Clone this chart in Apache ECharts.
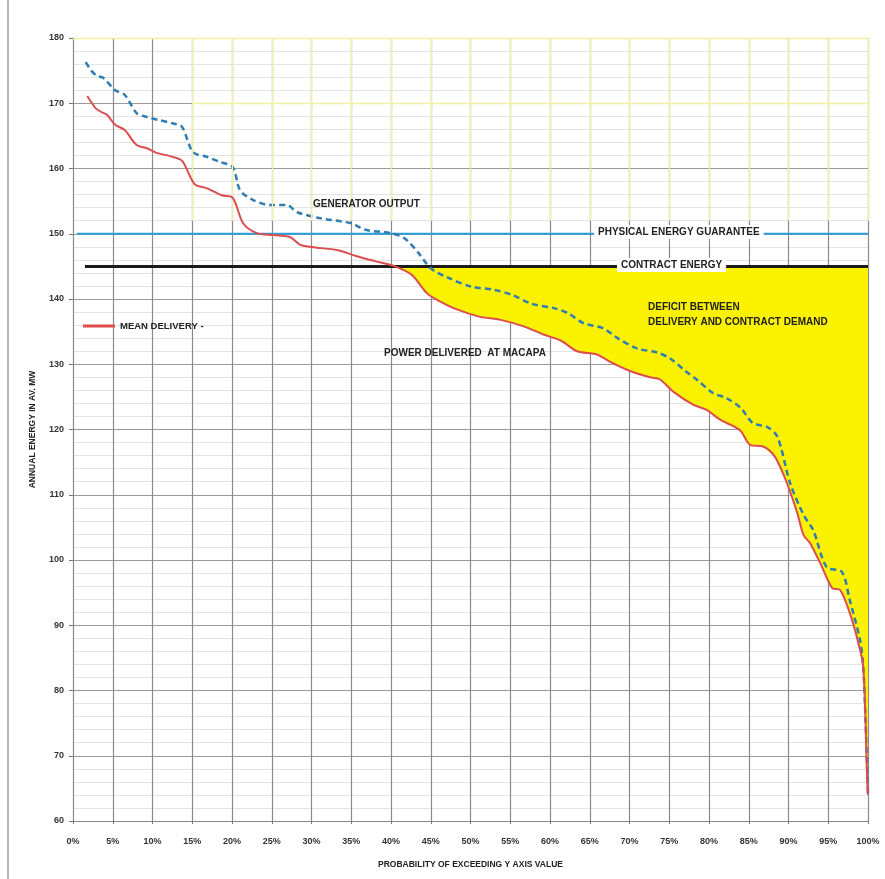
<!DOCTYPE html>
<html>
<head>
<meta charset="utf-8">
<script src="https://cdn.jsdelivr.net/npm/echarts@6/dist/echarts.min.js"></script>
<style>
html,body{margin:0;padding:0;background:#fff;}
#chart{width:885px;height:879px;}
</style>
</head>
<body>
<div id="chart"></div>
<script>
// ---- data (probability of exceeding in %, annual energy in av. MW) ----
var xTickValues = [0,5,10,15,20,25,30,35,40,45,50,55,60,65,70,75,80,85,90,95,100];
var xTickLabels = ['0%','5%','10%','15%','20%','25%','30%','35%','40%','45%','50%','55%','60%','65%','70%','75%','80%','85%','90%','95%','100%'];
var yTickValues = [60,70,80,90,100,110,120,130,140,150,160,170,180];

var meanDeliveryX = [1.8,2.8,3.5,4.3,5.3,6.5,8.0,9.3,10.5,12.2,13.7,15.3,16.8,18.7,20.1,21.4,23.1,25.2,27.3,28.6,30.5,33.2,35.6,38.0,40.5,42.6,44.5,45.9,48.3,51.1,53.8,56.7,59.1,61.4,63.4,65.9,67.5,70.0,72.6,73.8,75.5,78.0,79.7,81.4,83.9,85.2,86.8,88.3,89.8,91.1,91.9,92.7,94.0,95.5,96.5,97.7,98.7,99.4,99.9,100];
var meanDeliveryY = [171.1,169.3,168.7,168.2,166.7,165.9,163.6,163.1,162.4,161.9,161.2,157.6,157.0,155.9,155.5,151.6,150.1,149.8,149.5,148.3,147.9,147.5,146.6,145.8,145.0,143.7,140.9,139.8,138.4,137.3,136.8,135.8,134.6,133.6,132.0,131.5,130.4,129.0,128.0,127.7,125.8,123.8,123.0,121.5,119.9,117.6,117.4,115.8,111.8,107.2,103.8,102.6,99.5,95.7,95.4,91.9,87.7,83.6,66.3,64.0];

var generatorX = [1.6,2.3,3.0,3.8,5.3,6.5,8.0,9.3,10.9,12.6,13.7,15.1,16.8,18.5,20.1,21.0,22.6,24.8,26.9,28.2,31.0,35.0,36.8,40.0,41.7,43.5,45.0,47.3,50.1,53.0,55.3,57.6,60.5,62.3,64.2,66.7,68.5,71.0,73.5,75.2,77.0,78.5,80.5,82.2,84.0,85.5,87.3,88.6,90.2,91.9,93.1,94.8,96.7,97.7,99.0,99.4,99.7,100];
var generatorY = [176.3,175.0,174.2,173.9,172.0,171.3,168.5,167.9,167.4,166.9,166.4,162.5,161.8,161.0,160.2,156.7,155.2,154.4,154.4,153.3,152.4,151.6,150.6,150.1,149.3,147.0,144.7,143.2,141.9,141.4,140.6,139.3,138.6,137.8,136.3,135.5,134.0,132.4,131.8,130.8,129.0,127.6,125.6,124.8,123.3,121.0,120.4,118.9,111.8,106.9,104.6,98.9,98.2,93.9,87.7,83.6,75.0,64.0];

var physicalGuarantee = 150;
var physicalRange = [0.5, 100];
var contractEnergy = 145;
var contractRange = [1.5, 100];

// ---- derived series ----
function pairs(xs, ys){ return xs.map(function(x,i){ return [x, ys[i]]; }); }
var meanData = pairs(meanDeliveryX, meanDeliveryY);
var genData = pairs(generatorX, generatorY);
// deficit region: between contract energy and mean delivery where delivery is below contract
var deficitPoly = [];
meanDeliveryX.forEach(function(x,i){
  if (meanDeliveryY[i] <= contractEnergy && x >= 40) deficitPoly.push([x, meanDeliveryY[i]]);
});
deficitPoly.push([deficitPoly[deficitPoly.length-1][0], contractEnergy]);
deficitPoly.push([deficitPoly[0][0], contractEnergy]);

// faint yellow grid seen on the upper part of the scanned sheet
var yellowGrid = [];
xTickValues.forEach(function(v){
  if (v >= 15) yellowGrid.push([{coord:[v,180]},{coord:[v,152]}]);
});
yellowGrid.push([{coord:[0,180]},{coord:[100,180]}]);
yellowGrid.push([{coord:[15,170]},{coord:[100,170]}]);

var FONT = '"Liberation Sans", Arial, sans-serif';
var chart = echarts.init(document.getElementById('chart'), null, {renderer:'canvas'});
chart.setOption({
  animation: false,
  backgroundColor: '#ffffff',
  grid: {left: 73, right: 17, top: 38, bottom: 58, containLabel: false},
  legend: {
    data: [{name: 'MEAN DELIVERY -', icon: 'rect'}],
    left: 83, top: 321, padding: 0, itemWidth: 32, itemHeight: 3, itemGap: 8,
    textStyle: {fontFamily: FONT, fontWeight: 'bold', fontSize: 9.5, color: '#222'}
  },
  xAxis: {
    type: 'value', min: 0, max: 100, interval: 5,
    name: 'PROBABILITY OF EXCEEDING Y AXIS VALUE',
    nameLocation: 'middle', nameGap: 39,
    nameTextStyle: {fontFamily: FONT, fontWeight: 'bold', fontSize: 8.5, color: '#222'},
    axisLine: {show: true, lineStyle: {color: '#888', width: 1}},
    axisTick: {show: true, length: 3, lineStyle: {color: '#777'}},
    axisLabel: {
      margin: 16, fontFamily: FONT, fontWeight: 'bold', fontSize: 9, color: '#333',
      formatter: function(v){ var i = xTickValues.indexOf(v); return i >= 0 ? xTickLabels[i] : ''; }
    },
    splitLine: {show: true, lineStyle: {color: '#8a8a8a', width: 1.2}}
  },
  yAxis: {
    type: 'value', min: 60, max: 180, interval: 10,
    name: 'ANNUAL ENERGY IN AV. MW',
    nameLocation: 'middle', nameGap: 36, nameRotate: 90,
    nameTextStyle: {fontFamily: FONT, fontWeight: 'bold', fontSize: 8.5, color: '#222'},
    axisLine: {show: true, lineStyle: {color: '#888', width: 1}},
    axisTick: {show: true, length: 4, lineStyle: {color: '#777'}},
    axisLabel: {
      margin: 9, fontFamily: FONT, fontWeight: 'bold', fontSize: 9, color: '#333',
      formatter: function(v){ return yTickValues.indexOf(v) >= 0 ? String(v) : ''; }
    },
    splitLine: {show: true, lineStyle: {color: '#9a9a9a', width: 1}},
    minorTick: {show: false, splitNumber: 5},
    minorSplitLine: {show: true, lineStyle: {color: '#e4e4e4', width: 1}}
  },
  series: [
    {
      name: 'yellowgrid', type: 'line', data: [], z: 1, silent: true,
      markLine: {silent: true, symbol: ['none','none'], label: {show: false},
        lineStyle: {color: '#eef0a4', width: 1.3, type: 'solid'}, data: yellowGrid}
    },
    {
      name: 'deficit', type: 'custom', z: 2, silent: true,
      data: [deficitPoly[0]],
      renderItem: function(params, api){
        var pts = deficitPoly.map(function(p){ return api.coord(p); });
        return {type: 'polygon', shape: {points: pts}, style: {fill: '#fbf200'}};
      }
    },
    {
      name: 'PHYSICAL ENERGY GUARANTEE', type: 'line', symbol: 'none', z: 3,
      data: [[physicalRange[0], physicalGuarantee],[physicalRange[1], physicalGuarantee]],
      lineStyle: {color: '#2c9fdb', width: 2}
    },
    {
      name: 'CONTRACT ENERGY', type: 'line', symbol: 'none', z: 3,
      data: [[contractRange[0], contractEnergy],[contractRange[1], contractEnergy]],
      lineStyle: {color: '#1b1b1b', width: 3}
    },
    {
      name: 'GENERATOR OUTPUT', type: 'line', symbol: 'none', smooth: 0.3, z: 4,
      data: genData, color: '#2f7db3',
      lineStyle: {color: '#2f7db3', width: 2.5, type: [6,4]}
    },
    {
      name: 'MEAN DELIVERY -', type: 'line', symbol: 'none', smooth: 0.3, z: 5,
      data: meanData, color: '#dd4c4e',
      lineStyle: {color: '#dd4c4e', width: 2}
    }
  ],
  graphic: [
    {type: 'line', z: 10, shape: {x1: 8, y1: 0, x2: 8, y2: 879}, style: {stroke: '#b5b5b5', lineWidth: 2}},
    {type: 'text', z: 20, left: 313, top: 199,
      style: {text: 'GENERATOR OUTPUT', font: 'bold 10px ' + FONT, fill: '#222'}},
    {type: 'text', z: 20, left: 594, top: 225,
      style: {text: 'PHYSICAL ENERGY GUARANTEE', font: 'bold 10px ' + FONT, fill: '#222', backgroundColor: '#fff', padding: [2,4]}},
    {type: 'text', z: 20, left: 617, top: 258,
      style: {text: 'CONTRACT ENERGY', font: 'bold 10px ' + FONT, fill: '#222', backgroundColor: '#fff', padding: [2,4]}},
    {type: 'text', z: 20, left: 648, top: 302,
      style: {text: 'DEFICIT BETWEEN', font: 'bold 10px ' + FONT, fill: '#222'}},
    {type: 'text', z: 20, left: 648, top: 317,
      style: {text: 'DELIVERY AND CONTRACT DEMAND', font: 'bold 10px ' + FONT, fill: '#222'}},
    {type: 'text', z: 20, left: 384, top: 348,
      style: {text: 'POWER DELIVERED  AT MACAPA', font: 'bold 10px ' + FONT, fill: '#222'}}
  ]
});
</script>
</body>
</html>
